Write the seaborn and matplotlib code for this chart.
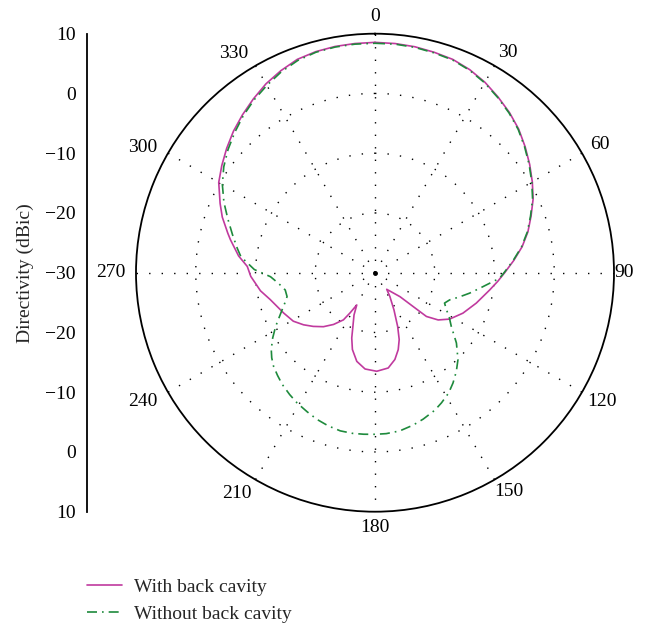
import numpy as np
import pandas as pd
import matplotlib
matplotlib.use("Agg")
import matplotlib.pyplot as plt
import seaborn as sns

# ---------------- data ----------------
angles_with = [0, 5, 10, 15, 20, 25, 30, 35, 40, 45, 50, 55, 60, 65, 70, 75, 80, 85, 90,
               94, 98.6, 106.7, 114.7, 121.9, 126.8, 130.4, 131.6, 133.8, 144.8, 148, 153,
               157.2, 160.1, 163.2, 167.1, 172.1, 179, 185.9, 191.6, 196.4, 199.6, 202.4,
               206.4, 209.5, 211.8, 213.8, 218.7, 223.7, 229, 233.9, 239.3, 246.1, 255.6,
               261, 268.3, 272.8, 277, 282.8, 285, 290, 294.1, 300, 305, 310, 315, 320,
               325, 330, 335, 340, 345, 350, 355, 360]
dir_with = [8.55, 8.5, 8.4, 8.2, 8.0, 7.5, 6.8, 5.9, 5.0, 4.0, 2.8, 1.6, 0.4, -0.8, -2.2,
            -3.5, -5.0, -6.7, -8.3, -9.4, -10.6, -12.3, -13.8, -15.3, -16.8, -18.7, -21.5,
            -24.2, -26.6, -25.3, -23.0, -20.2, -18.1, -16.55, -15.1, -13.9, -13.5, -13.8,
            -14.85, -16.6, -18.4, -20.3, -22.1, -23.8, -22.1, -20.5, -18.9, -17.5, -16.3,
            -15.2, -14.1, -13.3, -11.9, -10.6, -9.2, -8.6, -7.0, -5.2, -4.5, -2.8, -1.6,
            0.2, 1.3, 2.4, 3.5, 4.5, 5.5, 6.5, 7.3, 8.0, 8.3, 8.45, 8.5, 8.55]

angles_without = [0, 5, 10, 15, 20, 25, 30, 35, 40, 45, 50, 55, 60, 65, 70, 75, 80, 85, 90,
                  92.6, 95.3, 98.5, 102.2, 106, 110, 113.6, 117.5, 121, 125.1, 130.8, 136.3,
                  140.5, 144.7, 148.5, 152.9, 156.5, 161.8, 166, 171.1, 176, 180, 184, 188,
                  192.4, 197, 201.6, 206, 210.9, 215, 219.7, 223.5, 227.3, 230.5, 233.5,
                  237.5, 241.6, 245, 248.2, 251.5, 254.8, 259.1, 263.5, 267.8, 271.5, 276.8,
                  280, 285, 290, 295, 300, 305, 310, 315, 320, 325, 330, 335, 340, 345, 350,
                  355, 360]
dir_without = [8.4, 8.4, 8.3, 8.1, 7.9, 7.4, 6.7, 5.8, 4.9, 3.9, 2.7, 1.5, 0.3, -0.9, -2.3,
               -3.6, -5.1, -6.8, -8.4, -9.15, -10.75, -12.3, -13.8, -15.3, -16.7, -17.3,
               -16.5, -15.5, -14.4, -12.0, -9.9, -8.6, -7.4, -6.4, -5.55, -4.9, -4.2, -3.7,
               -3.2, -3.0, -2.95, -2.9, -2.85, -2.9, -3.2, -3.6, -4.1, -4.6, -5.1, -5.7,
               -6.3, -6.9, -7.6, -8.4, -9.7, -11.1, -12.3, -13.25, -14.1, -14.75, -14.7,
               -13.8, -12.5, -9.8, -7.4, -6.6, -5.3, -3.8, -2.1, -0.5, 0.9, 2.1, 3.2, 4.3,
               5.3, 6.2, 7.1, 7.8, 8.2, 8.35, 8.4, 8.4]

series_names = ["With back cavity", "Without back cavity"]
theta_ticks = [0, 30, 60, 90, 120, 150, 180, 210, 240, 270, 300, 330]
theta_labels = ["0", "30", "60", "90", "120", "150", "180", "210", "240", "270", "300", "330"]
r_grid = [-20, -10, 0]
side_positions = [40, 30, 20, 10, 0, -10, -20, -30, -40]
side_labels = ["10", "0", "\u221210", "\u221220", "\u221230", "\u221220", "\u221210", "0", "10"]

# label placement (layout only): angle and distance from centre in pixels
label_angle = [0, 31.2, 60.4, 90, 119.5, 148.5, 180, 212, 241, 270, 298.2, 327.3]
label_dist_px = [256, 257, 259, 249, 261, 257, 255, 260, 266, 264, 264, 261]

# ---------------- style ----------------
sns.set_theme(style="white")
plt.rcParams["font.family"] = ["Liberation Serif", "DejaVu Serif"]
plt.rcParams["axes.unicode_minus"] = True
FS = 14

W, H = 655, 626
fig = plt.figure(figsize=(W / 100, H / 100), dpi=100)
cx, cy, R = 375, 272.7, 239
ax = fig.add_axes([(cx - R) / W, (H - cy - R) / H, 2 * R / W, 2 * R / H], projection="polar")
ax.set_facecolor("white")
ax.set_theta_zero_location("N")
ax.set_theta_direction(-1)

col_with = "#c03a9e"
col_without = "#1e8a3c"

df_with = pd.DataFrame({"theta": np.deg2rad(angles_with), "r": dir_with})
df_without = pd.DataFrame({"theta": np.deg2rad(angles_without), "r": dir_without})

sns.lineplot(data=df_with, x="theta", y="r", ax=ax, sort=False, estimator=None,
             color=col_with, linewidth=1.2, label=series_names[0])
sns.lineplot(data=df_without, x="theta", y="r", ax=ax, sort=False, estimator=None,
             color=col_without, linewidth=1.2, linestyle=(0, (6, 3, 1, 3)),
             label=series_names[1])

rmin, rmax = -30, 10
ax.set_ylim(rmin, rmax)
ax.set_thetagrids(theta_ticks, labels=[""] * len(theta_ticks))
ax.set_rgrids(r_grid, labels=[""] * len(r_grid))
ax.grid(True, color="black", linewidth=1.0, linestyle=(0, (1, 8)))
ax.spines["polar"].set_linewidth(1.3)
ax.spines["polar"].set_color("black")
ax.set_xlabel("")
ax.set_ylabel("")
ax.plot([0], [rmin], marker="o", markersize=2.5, color="black")

units_per_px = (rmax - rmin) / R
for lab, ang, dpx in zip(theta_labels, label_angle, label_dist_px):
    ax.text(np.deg2rad(ang), rmin + dpx * units_per_px, lab, ha="center", va="center",
            fontsize=FS, color="black", clip_on=False)

leg = ax.legend(loc="upper left", bbox_to_anchor=(87 / W, 1 - 578 / H),
                bbox_transform=fig.transFigure, frameon=False, fontsize=FS,
                handlelength=1.8, handletextpad=0.6, labelspacing=0.5, borderpad=0,
                borderaxespad=0)

# ---------------- side scale ----------------
axl = fig.add_axes([86.7 / W, (H - cy - R) / H, 0.001, 2 * R / H])
axl.set_ylim(-40, 40)
axl.set_xticks([])
axl.set_yticks(side_positions)
axl.set_yticklabels(side_labels, fontsize=FS)
axl.tick_params(axis="y", length=0, pad=8, colors="black")
for s in ["top", "right", "bottom"]:
    axl.spines[s].set_visible(False)
axl.spines["left"].set_color("black")
axl.spines["left"].set_linewidth(1.3)
axl.patch.set_alpha(0)
fig.text(25 / W, 1 - cy / H, "Directivity (dBic)", rotation=90, ha="center", va="center",
         fontsize=FS)

fig.savefig("out.png", dpi=100, facecolor="white")
